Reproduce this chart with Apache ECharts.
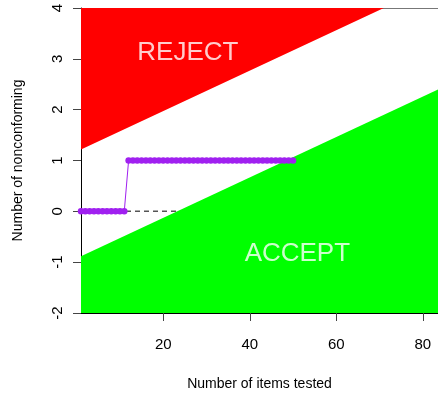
<!DOCTYPE html>
<html>
<head>
<meta charset="utf-8">
<script src="https://cdn.jsdelivr.net/npm/echarts@6/dist/echarts.min.js"></script>
<style>
  html, body { margin: 0; padding: 0; background: #fff; }
  #chart { width: 438px; height: 396px; }
</style>
</head>
<body>
<div id="chart"></div>
<script>
// Sequential sampling plan: decision boundaries and the observed path
const itemsTested = [1,2,3,4,5,6,7,8,9,10,11,12,13,14,15,16,17,18,19,20,21,22,23,24,25,
  26,27,28,29,30,31,32,33,34,35,36,37,38,39,40,41,42,43,44,45,46,47,48,49,50];
const nonconforming = [0,0,0,0,0,0,0,0,0,0,0,1,1,1,1,1,1,1,1,1,1,1,1,1,1,
  1,1,1,1,1,1,1,1,1,1,1,1,1,1,1,1,1,1,1,1,1,1,1,1,1];

// Boundary lines (items tested, count)
const acceptBoundary = [[1, -0.886], [84, 2.417]];
const rejectBoundary = [[1, 1.215], [84, 4.518]];
// Reference line at zero, up to where it meets the acceptance boundary
const zeroLine = [[1, 0], [23.3, 0]];

const xTicks = [20, 40, 60, 80];
const yTicks = [-2, -1, 0, 1, 2, 3, 4];

const regionLabels = [
  { text: 'REJECT', x: 25.7, y: 3.12 },
  { text: 'ACCEPT', x: 51, y: -0.83 }
];

const FONT = '"Liberation Sans", Arial, Helvetica, sans-serif';

const chart = echarts.init(document.getElementById('chart'), null, { renderer: 'canvas' });

const pathData = itemsTested.map((n, i) => [n, nonconforming[i]]);

chart.setOption({
  animation: false,
  backgroundColor: '#ffffff',
  grid: { left: 81, top: 8, right: 0, bottom: 83, containLabel: false },
  xAxis: [{
    type: 'value',
    min: 1,
    max: 83.5,
    name: 'Number of items tested',
    nameLocation: 'middle',
    nameGap: 64,
    nameTextStyle: { color: '#000', fontSize: 14, fontFamily: FONT },
    axisLine: { show: true, onZero: false, lineStyle: { color: '#000', width: 1 } },
    axisTick: { show: true, customValues: xTicks, length: 8, lineStyle: { color: '#444' } },
    axisLabel: { customValues: xTicks, color: '#000', fontSize: 15, fontFamily: FONT, margin: 24 },
    splitLine: { show: false }
  }, {
    type: 'value',
    position: 'top',
    min: 1,
    max: 83.5,
    axisLine: { show: true, onZero: false, lineStyle: { color: '#777', width: 1 } },
    axisTick: { show: false },
    axisLabel: { show: false },
    splitLine: { show: false }
  }],
  yAxis: {
    type: 'value',
    min: -2,
    max: 4,
    interval: 1,
    name: 'Number of nonconforming',
    nameLocation: 'middle',
    nameGap: 56,
    nameRotate: 90,
    nameTextStyle: { color: '#000', fontSize: 14, fontFamily: FONT },
    axisLine: { show: true, onZero: false, lineStyle: { color: '#000', width: 1 } },
    axisTick: { show: true, length: 8, lineStyle: { color: '#444' } },
    axisLabel: {
      color: '#000', fontSize: 15, fontFamily: FONT, rotate: 90, margin: 16,
      customValues: yTicks
    },
    splitLine: { show: false }
  },
  series: [
    {
      name: 'accept',
      type: 'line',
      data: acceptBoundary,
      showSymbol: false,
      lineStyle: { width: 0 },
      areaStyle: { color: '#00ff00', opacity: 1, origin: 'start' },
      silent: true,
      z: 1
    },
    {
      name: 'reject',
      type: 'line',
      data: rejectBoundary,
      showSymbol: false,
      lineStyle: { width: 0 },
      areaStyle: { color: '#ff0000', opacity: 1, origin: 'end' },
      silent: true,
      z: 1
    },
    {
      name: 'zero',
      type: 'line',
      data: zeroLine,
      showSymbol: false,
      lineStyle: { color: '#555', width: 1.5, type: [5, 4] },
      silent: true,
      z: 2
    },
    {
      name: 'path',
      type: 'line',
      data: pathData,
      symbol: 'circle',
      symbolSize: 6.5,
      itemStyle: { color: '#a020f0' },
      lineStyle: { color: '#a020f0', width: 1 },
      silent: true,
      z: 3
    },
    {
      name: 'labels',
      type: 'scatter',
      data: regionLabels.map(d => ({ value: [d.x, d.y], name: d.text })),
      symbolSize: 0,
      label: {
        show: true,
        position: 'inside',
        formatter: p => p.name,
        color: '#ffffff',
        textBorderWidth: 0,
        fontSize: 26,
        fontFamily: FONT
      },
      silent: true,
      z: 4
    }
  ]
});
</script>
</body>
</html>
